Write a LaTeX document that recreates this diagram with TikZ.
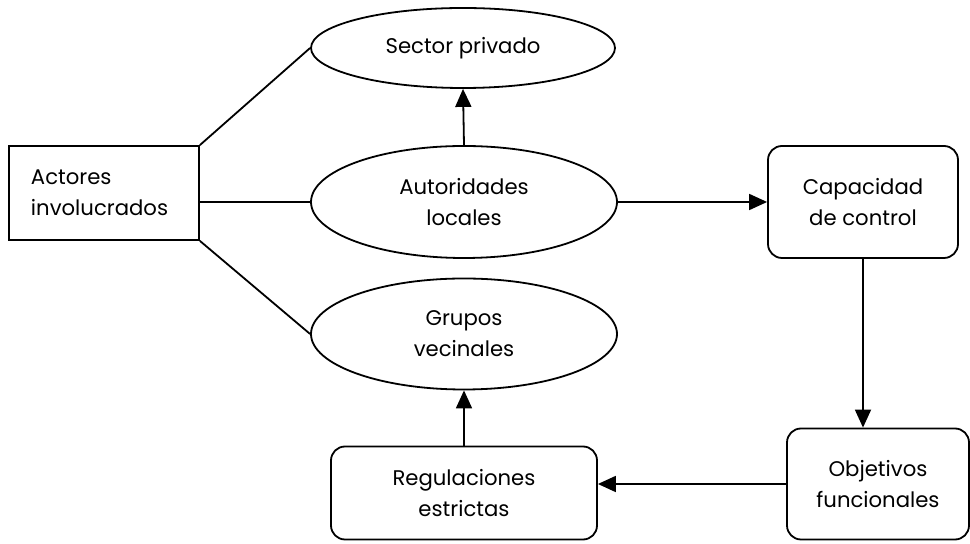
\documentclass[tikz,border=0pt]{standalone}
\usepackage{fontspec}
\setmainfont{Poppins}
\usetikzlibrary{shapes.geometric,arrows.meta}

\begin{document}
\begin{tikzpicture}[x=0.5pt,y=-0.5pt,
    line width=0.9pt,
    font=\fontsize{10.6}{15.5}\selectfont,
    oval/.style={draw, ellipse, inner sep=0pt, align=center},
    roundbox/.style={draw, rounded corners=7pt, inner sep=0pt, align=center},
    tip/.style={-{Triangle[length=9pt,width=8pt]}}]
  \useasboundingbox (0,0) rectangle (970,544);

  % Box of the actors
  \node[draw, minimum width=95pt, minimum height=47pt, inner xsep=11pt,
        text width=73pt, align=left] (actores) at (104,193)
        {Actores\\involucrados\\[-6pt]};

  % The three ellipses
  \node[oval, minimum width=152pt, minimum height=40pt] (sector) at (463,48)
        {Sector privado};
  \node[oval, minimum width=153pt, minimum height=56pt] (autoridades) at (464,202)
        {Autoridades\\locales};
  \node[oval, minimum width=153pt, minimum height=55.5pt] (grupos) at (464,334)
        {Grupos\\vecinales};

  % Rounded boxes
  \node[roundbox, minimum width=95pt, minimum height=56pt] (capacidad) at (863,202)
        {Capacidad\\de control};
  \node[roundbox, minimum width=91pt, minimum height=55.5pt] (objetivos) at (878,484)
        {Objetivos\\funcionales};
  \node[roundbox, minimum width=133pt, minimum height=46.5pt] (regulaciones) at (464,493)
        {Regulaciones\\estrictas};

  % Lines from the actors
  \draw (actores.north east) -- (sector.west);
  \draw (actores.east |- autoridades.west) -- (autoridades.west);
  \draw (actores.south east) -- (grupos.west);

  % Arrows
  \draw[tip] (autoridades.north) -- (sector.south);
  \draw[tip] (autoridades.east) -- (capacidad.west);
  \draw[tip] (capacidad.south) -- (objetivos.north -| capacidad.south);
  \draw[tip] (objetivos.west) -- (regulaciones.east |- objetivos.west);
  \draw[tip] (regulaciones.north) -- (grupos.south);
\end{tikzpicture}
\end{document}
